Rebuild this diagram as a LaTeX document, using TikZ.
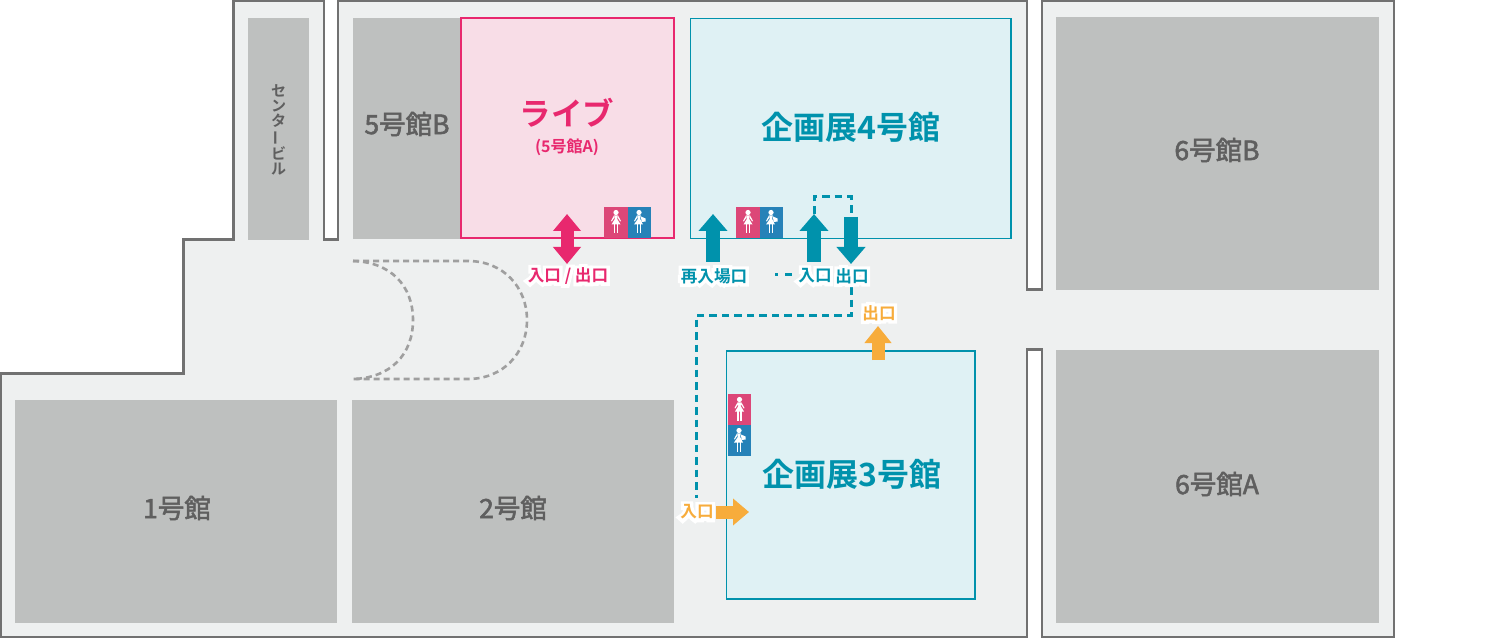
\documentclass[tikz,border=0pt]{standalone}
\usepackage{fontspec}
\usetikzlibrary{arrows.meta}
\setmainfont{Noto Sans CJK JP}[BoldFont={Noto Sans CJK JP Bold}]
\newfontfamily\jpb{Noto Sans CJK JP Bold}
\newfontfamily\jpm{Noto Sans CJK JP}[FakeBold=2]
\newfontfamily\halofont{Noto Sans CJK JP Bold}[FakeBold=40]
\definecolor{wall}{HTML}{717171}
\definecolor{floorc}{HTML}{EEF0F0}
\definecolor{hall}{HTML}{BEC0BF}
\definecolor{hallt}{HTML}{5F5F5F}
\definecolor{pinkf}{HTML}{F8DDE7}
\definecolor{pinkc}{HTML}{E8286E}
\definecolor{bluef}{HTML}{DFF1F4}
\definecolor{teal}{HTML}{0092AC}
\definecolor{orng}{HTML}{F7AC3B}
\definecolor{wc1}{HTML}{DC4778}
\definecolor{wc2}{HTML}{2682B8}
\definecolor{dashg}{HTML}{9F9F9F}
\newcommand{\halotext}[1]{\rlap{\halofont\color{white}#1}#1}
\tikzset{
 x=1pt,y=-1pt,
 hallbox/.style={fill=hall,draw=none},
 halllabel/.style={font=\jpm\fontsize{#1}{#1}\selectfont,text=hallt,inner sep=0},
 roompink/.style={fill=pinkf,draw=pinkc,line width=2pt},
 roomblue/.style={fill=bluef,draw=teal,line width=1.8pt},
 tlabel/.style={font=\jpb\fontsize{#1}{#1}\selectfont,text=teal,inner sep=0},
 smalltag/.style={font=\jpb\fontsize{16.6}{16.6}\selectfont,inner sep=0},
 dashroute/.style={draw=teal,line width=3pt,dash pattern=on 7.5pt off 5pt},
 dashcurve/.style={draw=dashg,line width=2.6pt,dash pattern=on 6pt off 4pt},
 blockarrow/.style={line width=14pt,-{Triangle[length=17pt,width=28pt]}},
 wcw/.style={fill=wc1},
 wcm/.style={fill=wc2},
}
% woman icon at centre
\newcommand{\womanicon}[2]{%
 \begin{scope}[shift={(#1,#2)},fill=white,draw=none]
 \fill (0,-9.5) circle[radius=2.6];
 \fill (-1.8,-6.6) -- (1.8,-6.6) -- (1.2,-3) -- (4.5,2.5) -- (-4.5,2.5) -- (-1.2,-3) -- cycle;
 \fill (-2,-6.6) -- (-5,-1) -- (-4.2,-0.5) -- (-1.5,-4.5) -- cycle;
 \fill (2,-6.6) -- (5,-1) -- (4.2,-0.5) -- (1.5,-4.5) -- cycle;
 \fill (-2.2,2) rectangle (-0.6,11.5);
 \fill (0.6,2) rectangle (2.2,11.5);
 \end{scope}}
\newcommand{\manicon}[2]{%
 \begin{scope}[shift={(#1,#2)},fill=white,draw=none]
 \fill (-1,-9.5) circle[radius=2.6];
 \fill (-2.8,-6.6) -- (0.8,-6.6) -- (0.2,-3) -- (3,2.5) -- (-6,2.5) -- (-2.2,-3) -- cycle;
 \fill (-3,-6.6) -- (-6,-1) -- (-5.2,-0.5) -- (-2.5,-4.5) -- cycle;
 \fill (1,-5.5) -- (5.5,-3.5) -- (5.5,-0.5) -- (1.5,0) -- cycle;
 \fill (-3.2,2) rectangle (-1.6,11.5);
 \fill (-0.4,2) rectangle (1.2,11.5);
 \end{scope}}
\begin{document}
\begin{tikzpicture}
\useasboundingbox (0,0) rectangle (1500,639);
\fill[white] (0,0) rectangle (1500,639);
% outline
\draw[wall,fill=floorc,line width=2.4pt]
 (0.8,373.5) -- (183.5,373.5) -- (183.5,239.5) -- (233.5,239.5) -- (233.5,1) -- (324,1) -- (324,239.5) -- (338,239.5) -- (338,1) -- (1027,1) -- (1027,289.5) -- (1042,289.5) -- (1042,1) -- (1394,1) -- (1394,637) -- (1042,637) -- (1042,349.5) -- (1027,349.5) -- (1027,637) -- (0.8,637) -- cycle;
% halls
\fill[hallbox] (248,18) rectangle (309,240);
\fill[hallbox] (353,18) rectangle (461,239);
\fill[hallbox] (15,400) rectangle (337,623);
\fill[hallbox] (352,400) rectangle (674,623);
\fill[hallbox] (1056,17) rectangle (1379,290);
\fill[hallbox] (1056,350) rectangle (1379,623);
% rooms
\draw[roompink] (461,18.5) rectangle (673.5,238.5);
\draw[roomblue] (690.5,18.5) rectangle (1011,238.5);
\draw[roomblue] (726.5,351) rectangle (975,599);
% hall labels
\node[align=center,inner sep=0,text=hallt,font=\jpb\fontsize{15}{15}\selectfont] (center) at (278.5,130) {セ\\ン\\タ\\\rotatebox[origin=c]{90}{ー}\\ビ\\ル};
\node[halllabel=26.5] (h5b) at (407,124) {5号館B};
\node[halllabel=26.5] (h1) at (177,508) {1号館};
\node[halllabel=26.5] (h2) at (513,508) {2号館};
\node[halllabel=26.5] (h6b) at (1217,150) {6号館B};
\node[halllabel=26.5] (h6a) at (1217,484) {6号館A};
% room labels
\node[tlabel=31.5,text=pinkc] (live) at (567,113) {ライブ};
\node[tlabel=16,text=pinkc] (livesub) at (567,147) {(5号館A)};
\node[tlabel=32] (t4) at (851,127) {企画展4号館};
\node[tlabel=32] (t3) at (852,474) {企画展3号館};
% gray curves
\coordinate (ca) at (353,261);
\coordinate (cb) at (353,379);
\draw[dashcurve] (ca) .. controls (390,262) and (413,285) .. (413,320) .. controls (413,355) and (390,378) .. (cb);
\draw[dashcurve] (ca) -- (468,261) .. controls (503,261) and (527,287) .. (527,320) .. controls (527,353) and (503,379) .. (468,379) -- (cb);
% wc icons
\fill[wcw] (604,207) rectangle (628,238);
\fill[wcm] (628,207) rectangle (651,238);
\womanicon{616}{222}\manicon{640}{222}
\fill[wcw] (736,207) rectangle (760,238);
\fill[wcm] (760,207) rectangle (783,238);
\womanicon{748}{222}\manicon{772}{222}
\fill[wcw] (728,394) rectangle (751,425);
\fill[wcm] (728,425) rectangle (751,456);
\womanicon{739.5}{409}\manicon{740}{440}
% routes
\coordinate (r1a) at (814,214);
\coordinate (r1b) at (814,197);
\coordinate (r1c) at (851,197);
\coordinate (r1d) at (851,217);
\draw[dashroute] (r1a) -- (r1b) -- (r1c) -- (r1d);
\coordinate (r2a) at (851,287);
\coordinate (r2b) at (851,315);
\coordinate (r2c) at (696,315);
\coordinate (r2d) at (696,498);
\draw[dashroute] (r2a) -- (r2b) -- (r2c) -- (r2d);
\coordinate (r3a) at (798,275);
\coordinate (r3b) at (775,275);
\draw[draw=teal,line width=3pt,dash pattern=on 3pt off 7pt on 7pt off 10pt] (r3b) -- (r3a);
% arrows
\coordinate (pa) at (567,214);
\coordinate (pb) at (567,264);
\draw[pinkc,line width=13pt,{Triangle[length=17pt,width=27pt]}-{Triangle[length=17pt,width=27pt]}] (pa) -- (pb);
\coordinate (aa) at (713,262); \coordinate (ab) at (713,214);
\draw[teal,blockarrow] (aa) -- (ab);
\coordinate (ba) at (814,262); \coordinate (bb) at (814,214);
\draw[teal,blockarrow] (ba) -- (bb);
\coordinate (ca2) at (851,217); \coordinate (cb2) at (851,264);
\draw[teal,blockarrow] (ca2) -- (cb2);
\coordinate (da) at (878,360); \coordinate (db) at (878,326);
\draw[orng,line width=13pt,-{Triangle[length=17pt,width=26pt]}] (da) -- (db);
\coordinate (ea) at (716,512); \coordinate (eb) at (749,512);
\draw[orng,line width=13pt,-{Triangle[length=16pt,width=26pt]}] (ea) -- (eb);
% tags
\node[smalltag,text=pinkc] (t1) at (568,276) {\halotext{入口 / 出口}};
\node[smalltag,text=teal] (t2) at (714,276) {\halotext{再入場口}};
\node[smalltag,text=teal] (t5) at (815,276) {\halotext{入口}};
\node[smalltag,text=teal] (t6) at (852,276) {\halotext{出口}};
\node[smalltag,text=orng] (t7) at (879,313) {\halotext{出口}};
\node[smalltag,text=orng] (t8) at (697,512) {\halotext{入口}};
\end{tikzpicture}
\end{document}
